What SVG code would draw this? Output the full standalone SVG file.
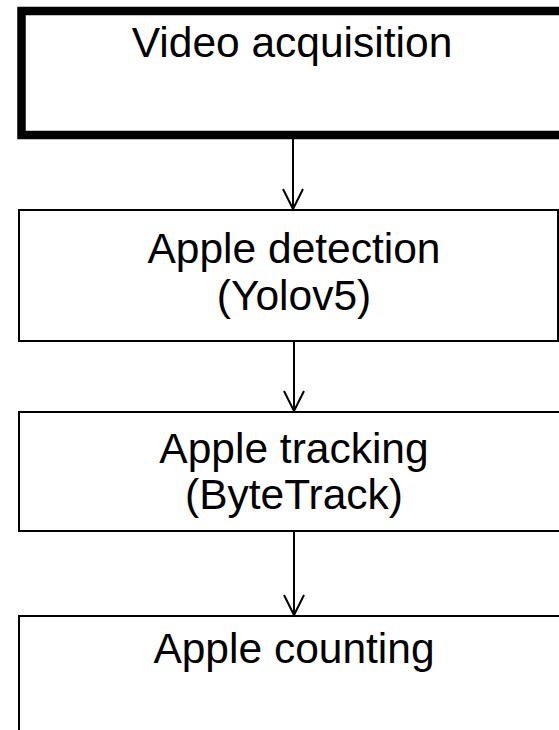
<svg xmlns="http://www.w3.org/2000/svg" width="559" height="730" viewBox="0 0 559 730">
  <style>
    .box { fill: #ffffff; stroke: #000000; stroke-width: 2; }
    .box.thick { stroke-width: 8.5; }
    .label { font-family: "Liberation Sans", Arial, sans-serif; font-size: 42.5px; fill: #000000; text-anchor: middle; }
    .link { stroke: #000000; stroke-width: 2; fill: none; }
    .head { stroke: #000000; stroke-width: 2; fill: none; }
  </style>
  <rect width="559" height="730" fill="#ffffff"/>

  <g id="video-acquisition">
    <rect class="box thick" x="21.5" y="11" width="560" height="124"/>
    <text class="label" x="292" y="56.5">Video acquisition</text>
  </g>

  <g id="apple-detection">
    <rect class="box" x="19" y="210" width="539" height="131"/>
    <text class="label" x="294" y="263">Apple detection</text>
    <text class="label" x="294" y="310">(Yolov5)</text>
  </g>

  <g id="apple-tracking">
    <rect class="box" x="19" y="412" width="560" height="119"/>
    <text class="label" x="294" y="462.5">Apple tracking</text>
    <text class="label" x="294" y="509">(ByteTrack)</text>
  </g>

  <g id="apple-counting">
    <rect class="box" x="19" y="616" width="560" height="140"/>
    <text class="label" x="294" y="663">Apple counting</text>
  </g>

  <g id="connectors">
    <line class="link" x1="293" y1="139" x2="293" y2="209"/>
    <polyline class="head" points="283,189 293,209 303,189"/>
    <line class="link" x1="294" y1="341" x2="294" y2="411"/>
    <polyline class="head" points="284,391 294,411 304,391"/>
    <line class="link" x1="294" y1="531" x2="294" y2="615"/>
    <polyline class="head" points="284,595 294,615 304,595"/>
  </g>
</svg>
